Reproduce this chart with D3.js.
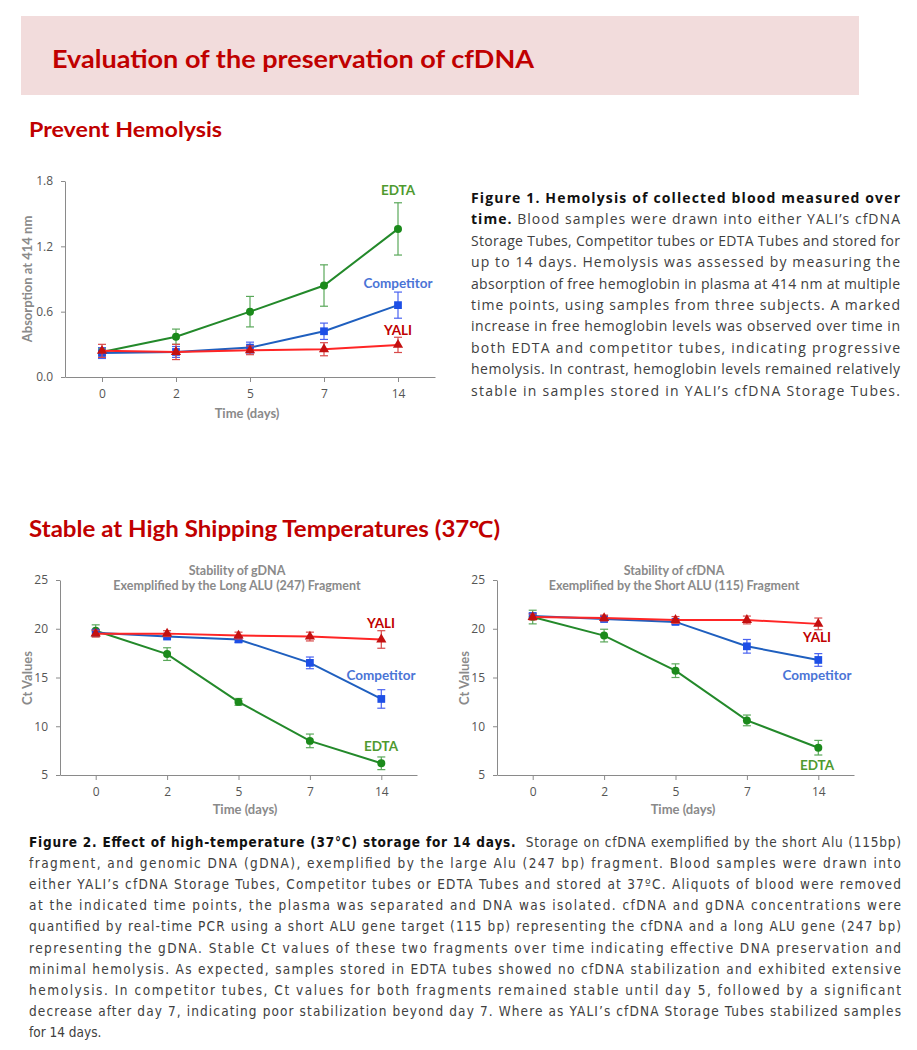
<!DOCTYPE html>
<html>
<head>
<meta charset="utf-8">
<script src="https://cdn.jsdelivr.net/npm/d3@7"></script>
<style>
  body { margin: 0; background: #fff; }
  svg { display: block; }
  .tick text { font-family: 'Open Sans', sans-serif; font-size: 12px; fill: #555; }
  .tick line, .domain { stroke: #8a8a8a; }
  .axis-label { font-family: Lato, sans-serif; font-weight: 700; font-size: 13px; fill: #8a8a8a; }
  .chart-title { font-family: Lato, sans-serif; font-weight: 700; font-size: 12.5px; fill: #8a8a8a; }
  .series-label { font-family: Lato, sans-serif; font-weight: 700; font-size: 13.5px; }
</style>
</head>
<body>
<svg width="917" height="1050"></svg>
<script>
const days = ['0', '2', '5', '7', '14'];
const seriesNames = ['EDTA', 'Competitor', 'YALI'];

// Figure 1: absorption at 414 nm
const hemoTicks = [0, 0.6, 1.2, 1.8];
const hemoEdta = [0.23, 0.37, 0.60, 0.84, 1.36];
const hemoEdtaErr = [0.03, 0.07, 0.14, 0.19, 0.24];
const hemoComp = [0.22, 0.23, 0.27, 0.42, 0.66];
const hemoCompErr = [0.05, 0.05, 0.05, 0.075, 0.12];
const hemoYali = [0.24, 0.23, 0.245, 0.255, 0.295];
const hemoYaliErr = [0.06, 0.07, 0.04, 0.06, 0.07];

// Figure 2: Ct values
const ctTicks = [5, 10, 15, 20, 25];
const gdnaEdta = [19.8, 17.4, 12.5, 8.5, 6.2];
const gdnaEdtaErr = [0.6, 0.65, 0.35, 0.7, 0.65];
const gdnaComp = [19.6, 19.2, 18.9, 16.5, 12.8];
const gdnaCompErr = [0.3, 0.25, 0.3, 0.6, 0.95];
const gdnaYali = [19.5, 19.5, 19.3, 19.2, 18.9];
const gdnaYaliErr = [0.35, 0.3, 0.35, 0.45, 0.9];

const cfdnaEdta = [21.2, 19.3, 15.7, 10.6, 7.8];
const cfdnaEdtaErr = [0.7, 0.65, 0.7, 0.55, 0.75];
const cfdnaComp = [21.3, 21.0, 20.7, 18.2, 16.8];
const cfdnaCompErr = [0.3, 0.2, 0.25, 0.7, 0.65];
const cfdnaYali = [21.2, 21.1, 20.9, 20.9, 20.5];
const cfdnaYaliErr = [0.3, 0.3, 0.35, 0.4, 0.6];

const styles = {
  EDTA: { line: '#23892a', err: '#5aa85a', mark: '#1b8a1b', text: '#4f9a2f', shape: 'circle' },
  Competitor: { line: '#1f5fbf', err: '#4a63f0', mark: '#1d4fe6', text: '#4a74d6', shape: 'square' },
  YALI: { line: '#ff2525', err: '#d84a4a', mark: '#c41010', text: '#c00000', shape: 'triangle' }
};

const svg = d3.select('svg');
svg.append('rect').attr('width', 917).attr('height', 1050).attr('fill', '#fff');

// headings
svg.append('rect')
  .attr('x', 21).attr('y', 16).attr('width', 838).attr('height', 79)
  .attr('fill', '#f2dcdc');

const heading = (text, x, y, size, len) => svg.append('text')
  .attr('x', x).attr('y', y)
  .attr('font-family', 'Lato, sans-serif')
  .attr('font-weight', 700)
  .attr('font-size', size)
  .attr('fill', '#c00000')
  .attr('textLength', len)
  .attr('lengthAdjust', 'spacingAndGlyphs')
  .text(text);

heading('Evaluation of the preservation of cfDNA', 52, 68, 25, 482);
heading('Prevent Hemolysis', 29, 137, 21, 193);
heading('Stable at High Shipping Temperatures (37\u2103)', 29, 537, 22, 471);

const render = cfg => {
  const xScale = d3.scalePoint().domain(days).range(cfg.xRange).padding(0.5);
  const yScale = d3.scaleLinear().domain(cfg.yDomain).range(cfg.yRange);
  const g = svg.append('g');

  g.append('g')
    .attr('transform', `translate(${cfg.xRange[0]},0)`)
    .call(d3.axisLeft(yScale).tickValues(cfg.ticks).tickFormat(cfg.fmt).tickSize(4).tickSizeOuter(0).tickPadding(8));
  g.append('g')
    .attr('transform', `translate(0,${cfg.yRange[0]})`)
    .call(d3.axisBottom(xScale).tickSize(5).tickSizeOuter(0).tickPadding(7));

  g.append('text')
    .attr('class', 'axis-label')
    .attr('transform', `translate(${cfg.yLabelX},${cfg.yLabelY}) rotate(-90)`)
    .attr('text-anchor', 'middle')
    .text(cfg.yLabel);
  g.append('text')
    .attr('class', 'axis-label')
    .attr('x', cfg.xLabelX).attr('y', cfg.xLabelY)
    .attr('text-anchor', 'middle')
    .text('Time (days)');

  if (cfg.title) {
    cfg.title.forEach((t, i) => g.append('text')
      .attr('class', 'chart-title')
      .attr('x', cfg.titleX).attr('y', 575 + i * 14.5)
      .attr('text-anchor', 'middle')
      .text(t));
  }

  const line = d3.line()
    .x((d, i) => xScale(days[i]))
    .y(d => yScale(d));

  cfg.series.forEach(s => {
    const st = styles[s.name];
    g.append('path')
      .datum(s.values)
      .attr('fill', 'none')
      .attr('stroke', st.line)
      .attr('stroke-width', 2)
      .attr('d', line);

    const eb = g.append('g').attr('stroke', st.err).attr('stroke-width', 1.2);
    s.values.forEach((v, i) => {
      const x = xScale(days[i]);
      const y0 = yScale(v - s.err[i]);
      const y1 = yScale(v + s.err[i]);
      eb.append('line').attr('x1', x).attr('x2', x).attr('y1', y0).attr('y2', y1);
      eb.append('line').attr('x1', x - 4).attr('x2', x + 4).attr('y1', y0).attr('y2', y0);
      eb.append('line').attr('x1', x - 4).attr('x2', x + 4).attr('y1', y1).attr('y2', y1);
    });

    const sym = st.shape === 'circle' ? d3.symbolCircle
      : st.shape === 'square' ? d3.symbolSquare : d3.symbolTriangle;
    const size = st.shape === 'circle' ? 50 : st.shape === 'square' ? 60 : 45;
    g.selectAll(null).data(s.values).enter().append('path')
      .attr('transform', (d, i) => `translate(${xScale(days[i])},${yScale(d)})`)
      .attr('d', d3.symbol().type(sym).size(size))
      .attr('fill', st.mark);

    g.append('text')
      .attr('class', 'series-label')
      .attr('x', s.labelX).attr('y', s.labelY)
      .attr('text-anchor', 'middle')
      .attr('fill', st.text)
      .text(s.name);
  });
};

render({
  xRange: [65, 435], yDomain: [0, 1.8], yRange: [377, 181],
  ticks: hemoTicks, fmt: d3.format('.1f'),
  yLabel: 'Absorption at 414 nm', yLabelX: 32, yLabelY: 279,
  xLabelX: 247, xLabelY: 418,
  series: [
    { name: 'EDTA', values: hemoEdta, err: hemoEdtaErr, labelX: 398, labelY: 195 },
    { name: 'Competitor', values: hemoComp, err: hemoCompErr, labelX: 398, labelY: 288 },
    { name: 'YALI', values: hemoYali, err: hemoYaliErr, labelX: 398, labelY: 335 }
  ]
});

render({
  xRange: [60, 417], yDomain: [5, 25], yRange: [775, 580],
  ticks: ctTicks, fmt: d3.format('d'),
  yLabel: 'Ct Values', yLabelX: 32, yLabelY: 678,
  xLabelX: 245, xLabelY: 814,
  title: ['Stability of gDNA', 'Exemplified by the Long ALU (247) Fragment'], titleX: 237,
  series: [
    { name: 'EDTA', values: gdnaEdta, err: gdnaEdtaErr, labelX: 381, labelY: 751 },
    { name: 'Competitor', values: gdnaComp, err: gdnaCompErr, labelX: 381, labelY: 680 },
    { name: 'YALI', values: gdnaYali, err: gdnaYaliErr, labelX: 381, labelY: 628 }
  ]
});

render({
  xRange: [497, 854], yDomain: [5, 25], yRange: [775, 580],
  ticks: ctTicks, fmt: d3.format('d'),
  yLabel: 'Ct Values', yLabelX: 469, yLabelY: 678,
  xLabelX: 683, xLabelY: 814,
  title: ['Stability of cfDNA', 'Exemplified by the Short ALU (115) Fragment'], titleX: 674,
  series: [
    { name: 'EDTA', values: cfdnaEdta, err: cfdnaEdtaErr, labelX: 817, labelY: 770 },
    { name: 'Competitor', values: cfdnaComp, err: cfdnaCompErr, labelX: 817, labelY: 680 },
    { name: 'YALI', values: cfdnaYali, err: cfdnaYaliErr, labelX: 817, labelY: 642 }
  ]
});

// captions: each line is [boldPart, regularPart]
const fig1Lines = [
  ['Figure 1. Hemolysis of collected blood measured over', ''],
  ['time.', ' Blood samples were drawn into either YALI\u2019s cfDNA'],
  ['', 'Storage Tubes, Competitor tubes or EDTA Tubes and stored for'],
  ['', 'up to 14 days. Hemolysis was assessed by measuring the'],
  ['', 'absorption of free hemoglobin in plasma at 414 nm at multiple'],
  ['', 'time points, using samples from three subjects. A marked'],
  ['', 'increase in free hemoglobin levels was observed over time in'],
  ['', 'both EDTA and competitor tubes, indicating progressive'],
  ['', 'hemolysis. In contrast, hemoglobin levels remained relatively'],
  ['', 'stable in samples stored in YALI\u2019s cfDNA Storage Tubes.']
];
const fig2Lines = [
  ['Figure 2. Effect of high-temperature (37\u00b0C) storage for 14 days.', '  Storage on cfDNA exemplified by the short Alu (115bp)'],
  ['', 'fragment, and genomic DNA (gDNA), exemplified by the large Alu (247 bp) fragment. Blood samples were drawn into'],
  ['', 'either YALI\u2019s cfDNA Storage Tubes, Competitor tubes or EDTA Tubes and stored at 37\u00baC. Aliquots of blood were removed'],
  ['', 'at the indicated time points, the plasma was separated and DNA was isolated. cfDNA and gDNA concentrations were'],
  ['', 'quantified by real-time PCR using a short ALU gene target (115 bp) representing the cfDNA and a long ALU gene (247 bp)'],
  ['', 'representing the gDNA. Stable Ct values of these two fragments over time indicating effective DNA preservation and'],
  ['', 'minimal hemolysis. As expected, samples stored in EDTA tubes showed no cfDNA stabilization and exhibited extensive'],
  ['', 'hemolysis. In competitor tubes, Ct values for both fragments remained stable until day 5, followed by a significant'],
  ['', 'decrease after day 7, indicating poor stabilization beyond day 7. Where as YALI\u2019s cfDNA Storage Tubes stabilized samples'],
  ['', 'for 14 days.']
];

const paragraph = (lines, x, y0, step, width, font, size, justifyLast) => {
  lines.forEach((ln, i) => {
    const t = svg.append('text')
      .attr('x', x).attr('y', y0 + i * step)
      .attr('font-family', font)
      .attr('font-size', size)
      .attr('fill', '#404040');
    if (i < lines.length - 1 || justifyLast) {
      t.attr('textLength', width).attr('lengthAdjust', 'spacing');
    }
    if (ln[0]) t.append('tspan').attr('font-weight', 700).attr('fill', '#111').text(ln[0]);
    if (ln[1]) t.append('tspan').attr('xml:space', 'preserve').text(ln[1]);
  });
};

paragraph(fig1Lines, 471, 203, 21.4, 429, "'Open Sans', sans-serif", 14, true);
paragraph(fig2Lines, 29, 847, 21.1, 872, "'DejaVu Sans Condensed', 'Liberation Sans', sans-serif", 13.5, false);
</script>
</body>
</html>
